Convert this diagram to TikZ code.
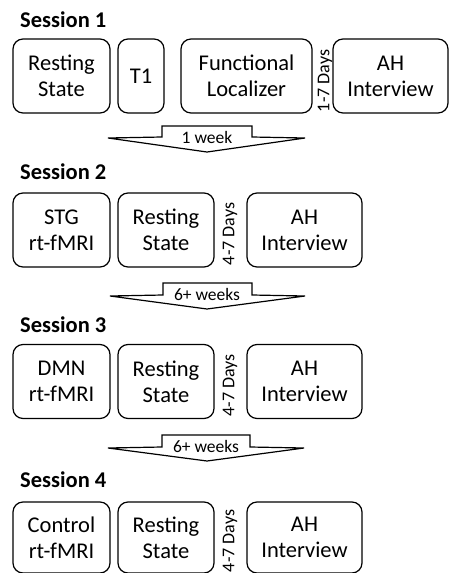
\documentclass[tikz,border=0pt]{standalone}
\usepackage{fontspec}
\setmainfont{Carlito}
\usetikzlibrary{positioning}

\begin{document}
\begin{tikzpicture}[x=1pt, y=-1pt,
    box/.style={draw, rounded corners=10pt, line width=1.2pt, align=center, inner sep=0pt, minimum height=74pt, font=\fontsize{22.5}{26}\selectfont},
    days/.style={rotate=90, inner sep=0pt, font=\fontsize{18}{20}\selectfont},
    session/.style={anchor=west, inner sep=0pt, font=\fontsize{22.5}{26}\selectfont\bfseries},
    gaplabel/.style={inner sep=0pt, font=\fontsize{17.5}{20}\selectfont},
    gaparrow/.style={draw, fill=white, line width=1.2pt, line join=miter}]
                \useasboundingbox (0,0) rectangle (449,573);

                % Session 1
                \node[session] (Session1) at (20,20) {Session 1};
                \node[box, minimum width=97pt] (Rest1) at (61.5,76) {Resting\\ State};
                \node[box, minimum width=46pt] (T1) at (141,76) {T1};
                \node[box, minimum width=131pt] (Loc) at (246.5,76) {Functional\\ Localizer};
                \node[days] (Days1) at (325,81) {1-7 Days};
                \node[box, minimum width=115pt] (AH1) at (390.5,76) {AH\\ Interview};

                % Session 2
                \node[session] (Session2) at (20,172) {Session 2};
                \node[box, minimum width=97pt] (STG) at (61.5,230) {STG\\ rt-fMRI};
                \node[box, minimum width=96pt] (Rest2) at (166,230) {Resting\\ State};
                \node[days] (Days2) at (230,234) {4-7 Days};
                \node[box, minimum width=115pt] (AH2) at (304.5,230) {AH\\ Interview};

                % Session 3
                \node[session] (Session3) at (20,325) {Session 3};
                \node[box, minimum width=97pt] (DMN) at (61.5,381.5) {DMN\\ rt-fMRI};
                \node[box, minimum width=96pt] (Rest3) at (166,381.5) {Resting\\ State};
                \node[days] (Days3) at (230,385.5) {4-7 Days};
                \node[box, minimum width=115pt] (AH3) at (304.5,381.5) {AH\\ Interview};

                % Session 4
                \node[session] (Session4) at (20,480) {Session 4};
                \node[box, minimum width=97pt, minimum height=71pt] (Ctrl) at (61.5,537.5) {Control\\ rt-fMRI};
                \node[box, minimum width=96pt, minimum height=71pt] (Rest4) at (166,537.5) {Resting\\ State};
                \node[days] (Days4) at (230,541) {4-7 Days};
                \node[box, minimum width=115pt, minimum height=71pt] (AH4) at (304.5,537.5) {AH\\ Interview};

                % gaps between sessions
                \draw[gaparrow] (162,126) -- (252,126) -- (252,137) -- (305,138) -- (207,152) -- (108,138) -- (162,137) -- cycle;
                \node[gaplabel] (Week1) at (207,137) {1 week};
                \draw[gaparrow] (163,283) -- (252,283) -- (252,295) -- (305,296) -- (207,309) -- (110,296) -- (163,295) -- cycle;
                \node[gaplabel] (Week2) at (207,294) {6+ weeks};
                \draw[gaparrow] (162,435) -- (250,435) -- (250,447) -- (304,448) -- (207,461) -- (108,448) -- (162,447) -- cycle;
                \node[gaplabel] (Week3) at (206,446) {6+ weeks};

            \end{tikzpicture}
\end{document}
